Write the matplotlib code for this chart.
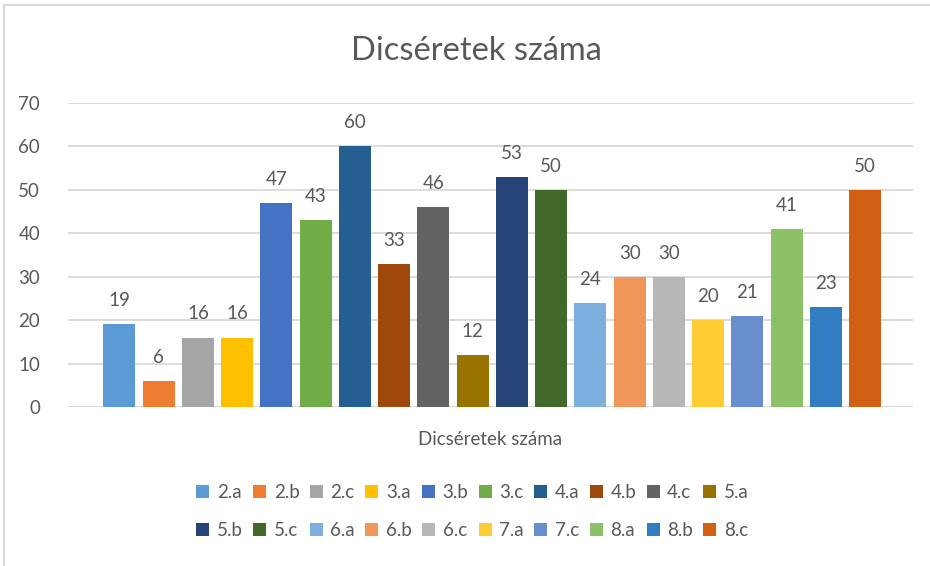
import matplotlib.pyplot as plt
from matplotlib.lines import Line2D

plt.rcParams['font.family'] = ['Lato', 'DejaVu Sans']

# adatok
osztalyok = ['2.a', '2.b', '2.c', '3.a', '3.b', '3.c', '4.a', '4.b', '4.c', '5.a',
             '5.b', '5.c', '6.a', '6.b', '6.c', '7.a', '7.c', '8.a', '8.b', '8.c']
dicseretek = [19, 6, 16, 16, 47, 43, 60, 33, 46, 12,
              53, 50, 24, 30, 30, 20, 21, 41, 23, 50]
szinek = ['#5B9BD5', '#ED7D31', '#A5A5A5', '#FFC000', '#4472C4', '#70AD47',
          '#255E91', '#9E480E', '#636363', '#997300', '#264478', '#43682B',
          '#7CAFDD', '#F1975A', '#B7B7B7', '#FFCD33', '#698ED0', '#8CC168',
          '#327DC2', '#D26012']
y_ticks = [0, 10, 20, 30, 40, 50, 60, 70]

szoveg = '#595959'
meret = 13.5

fig = plt.figure(figsize=(9.3, 5.66), dpi=100)
ax = fig.add_axes([0.0731, 0.2809, 0.9086, 0.5371])

bars = []
for i, (nev, ert, szin) in enumerate(zip(osztalyok, dicseretek, szinek)):
    b = ax.bar(i, ert, width=0.82, color=szin, label=nev, zorder=3)
    bars.append(b)
    ax.annotate(str(ert), (i, ert), xytext=(0, 17), textcoords='offset points',
                ha='center', va='center', fontsize=meret, color=szoveg)

ax.set_xlim(-1.31, 20.22)
ax.set_ylim(0, 70)
ax.set_yticks(y_ticks)
ax.set_xticks([])
ax.tick_params(axis='y', length=0, labelsize=meret, labelcolor=szoveg, pad=20)
ax.grid(axis='y', color='#D9D9D9', linewidth=1.3, zorder=0)
for s in ax.spines.values():
    s.set_visible(False)

ax.set_xlabel('Dicséretek száma', fontsize=meret, color=szoveg, labelpad=17)
fig.text(0.512, 0.91, 'Dicséretek száma', ha='center', va='center',
         fontsize=23.5, color=szoveg)

# jelmagyarazat: soronkent 10 elem
sorrend = []
for j in range(10):
    sorrend += [j, j + 10]
handles = [bars[k] for k in sorrend]
labels = [osztalyok[k] for k in sorrend]
fig.legend(handles, labels, ncol=10, loc='center', bbox_to_anchor=(0.508, 0.096),
           frameon=False, fontsize=meret, handlelength=0.7, handleheight=0.7,
           handletextpad=0.4, columnspacing=0.55, labelspacing=1.15,
           labelcolor=szoveg)

# keret
fig.add_artist(Line2D([4 / 930, 1], [1 - 5 / 566, 1 - 5 / 566], color='#D9D9D9',
                      linewidth=1.5, transform=fig.transFigure))
fig.add_artist(Line2D([4 / 930, 4 / 930], [0, 1 - 5 / 566], color='#D9D9D9',
                      linewidth=1.5, transform=fig.transFigure))

fig.savefig('out.png', dpi=100)
